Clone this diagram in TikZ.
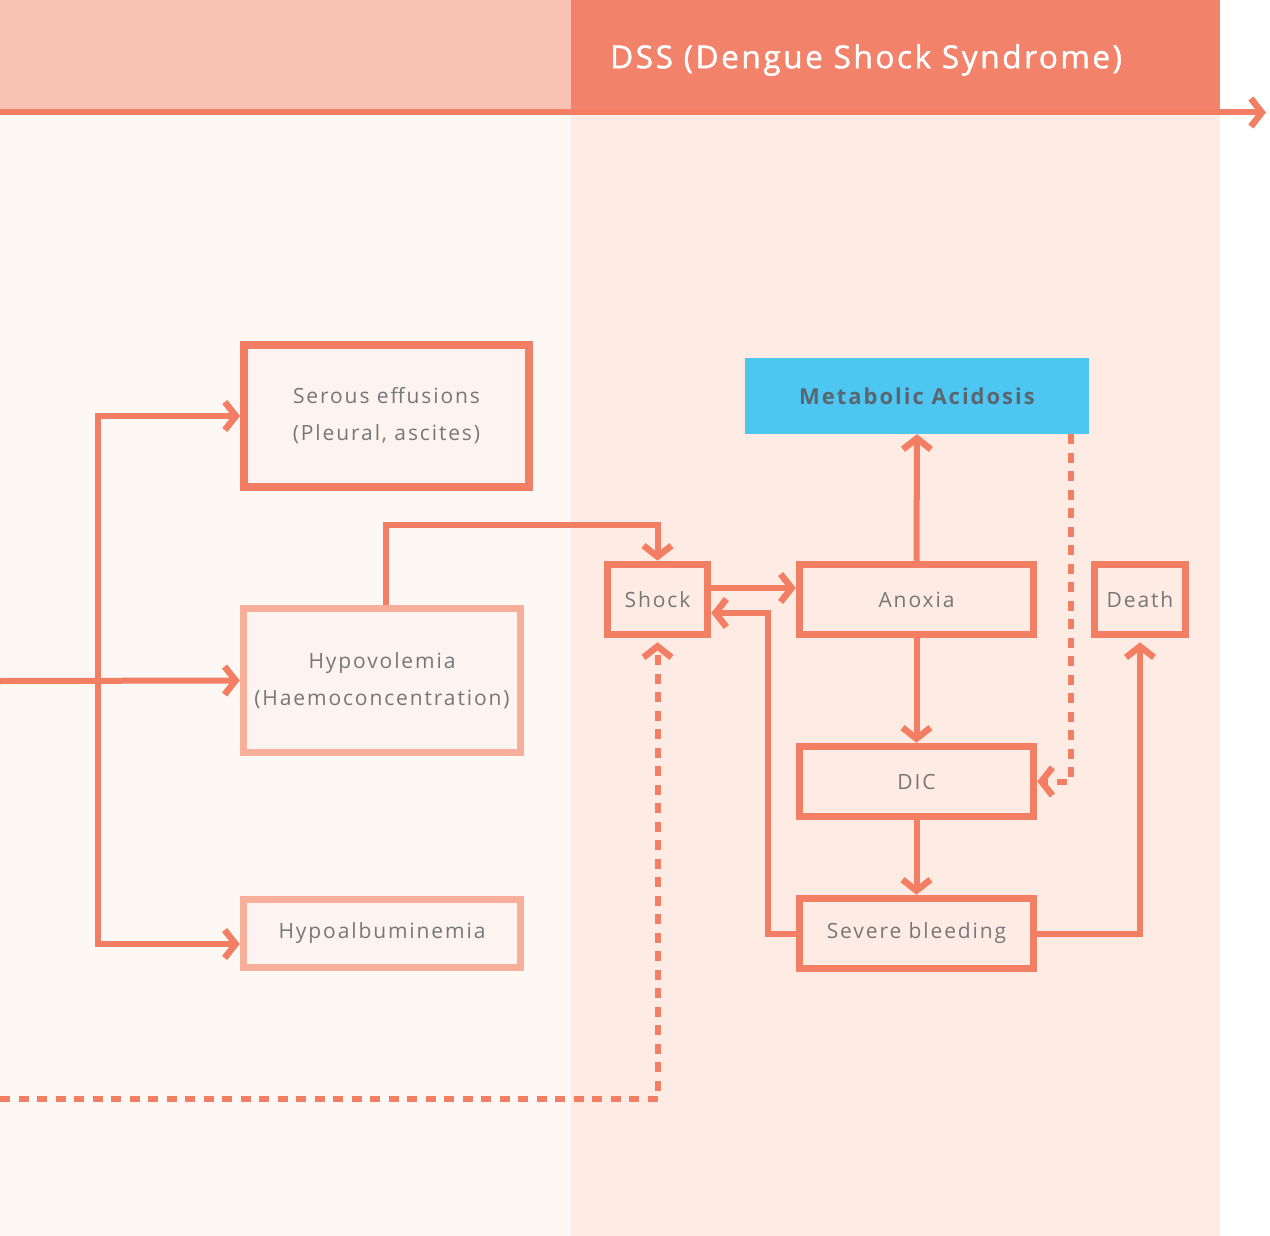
\documentclass[tikz,border=0pt]{standalone}
\usepackage{fontspec}
\setmainfont{Open Sans}
\newfontfamily\lblfont[LetterSpace=9]{Open Sans}
\newfontfamily\headfont[LetterSpace=8,FakeBold=1.3]{Open Sans}
\usetikzlibrary{arrows.meta}
\definecolor{salmon}{HTML}{F27E63}
\definecolor{headR}{HTML}{F2826A}
\definecolor{headL}{HTML}{F8C3B3}
\definecolor{bgL}{HTML}{FEF8F5}
\definecolor{bgR}{HTML}{FDEBE4}
\definecolor{boxfill}{HTML}{FDF3F0}
\definecolor{lightborder}{HTML}{F7AE9B}
\definecolor{skyblue}{HTML}{4DC6F2}
\definecolor{txtgray}{HTML}{777777}
\definecolor{darkgray}{HTML}{5B6770}
\tikzset{
  chev/.tip={Straight Barb[length=11pt,width=28pt,line width=6.5pt]},
  conn/.style={draw=salmon,line width=6pt,-chev},
  plain/.style={draw=salmon,line width=6pt},
  dashline/.style={draw=salmon,line width=6pt,dash pattern=on 10pt off 8.5pt,-chev},
  darkbox/.style={draw=salmon,line width=8pt,fill=boxfill,inner sep=0pt,align=center,
    font=\lblfont\fontsize{21}{37}\selectfont,text=txtgray},
  midbox/.style={draw=salmon,line width=7.5pt,fill=bgR,inner sep=0pt,align=center,
    font=\lblfont\fontsize{21}{37}\selectfont,text=txtgray},
  lightbox/.style={draw=lightborder,line width=7.5pt,fill=boxfill,inner sep=0pt,align=center,
    font=\lblfont\fontsize{21}{37}\selectfont,text=txtgray},
}
\begin{document}
\begin{tikzpicture}[x=1pt,y=-1pt]
\useasboundingbox (0,0) rectangle (1270,1236);
% backgrounds
\fill[white] (0,0) rectangle (1270,1236);
\fill[bgL] (0,113) rectangle (571,1236);
\fill[bgR] (571,113) rectangle (1220,1236);
\fill[headL] (0,0) rectangle (571,113);
\fill[headR] (571,0) rectangle (1220,113);
\node[anchor=west,text=white,font=\headfont\fontsize{31.6}{36}\selectfont,inner sep=0pt] (title) at (610,60) {DSS (Dengue Shock Syndrome)};
\coordinate (tl) at (0,112.5);
\coordinate (tr) at (1266,112.5);
\draw[conn] (tl) -- (tr);
% nodes
\node[darkbox,minimum width=285pt,minimum height=142pt] (serous) at (386.5,416) {Serous effusions\\(Pleural, ascites)};
\node[lightbox,minimum width=277pt,minimum height=144pt] (hypov) at (382,680.5) {Hypovolemia\\(Haemoconcentration)};
\node[lightbox,minimum width=277pt,minimum height=68pt] (hypoalb) at (382,933.5) {Hypoalbuminemia};
\node[midbox,minimum width=100pt,minimum height=70pt] (shock) at (657.5,599.5) {Shock};
\node[midbox,minimum width=234pt,minimum height=70pt] (anoxia) at (916.5,599.5) {Anoxia};
\node[midbox,minimum width=91pt,minimum height=70pt] (death) at (1140,599.5) {Death};
\node[midbox,minimum width=234pt,minimum height=70pt] (dic) at (916.5,781.5) {DIC};
\node[midbox,minimum width=234pt,minimum height=70pt] (severe) at (916.5,933.5) {Severe bleeding};
\node[fill=skyblue,minimum width=344pt,minimum height=76pt,inner sep=0pt,text=darkgray,
  font=\lblfont\bfseries\fontsize{22}{26}\selectfont] (metab) at (917,396) {Metabolic Acidosis};
% left connectors
\coordinate (in) at (0,681);
\draw[conn] (in) -- (hypov.west);
\coordinate (j1) at (98,416);
\coordinate (j2) at (98,944);
\draw[plain,line cap=rect] (j1) -- (j2);
\draw[conn] (j1) -- (serous.west);
\draw[conn] (j2) -- (hypoalb.west |- j2);
\coordinate (h1) at (386,525);
\draw[conn] (hypov.north -| h1) -- (h1) -- (h1 -| shock.north) -- (shock.north);
% right connectors
\draw[conn] ([yshift=11.5pt]shock.east) -- ([yshift=11.5pt]anoxia.west);
\coordinate (r1) at (768,613);
\draw[conn] (severe.west) -| (r1) -- ([yshift=-13.5pt]shock.east);
\draw[conn] (anoxia.north) -- (metab.south);
\draw[conn] (anoxia.south) -- (dic.north);
\draw[conn] (dic.south) -- (severe.north);
\draw[conn] (severe.east) -| ([yshift=-4pt]death.south);
\coordinate (d1) at (1071,781.5);
\draw[dashline] (metab.south -| d1) -- (d1) -- (dic.east);
\coordinate (d0) at (0,1099);
\coordinate (d2) at (657.5,1099);
\draw[dashline] (d0) -- (d2) -- ([yshift=-4pt]shock.south);
\end{tikzpicture}
\end{document}
